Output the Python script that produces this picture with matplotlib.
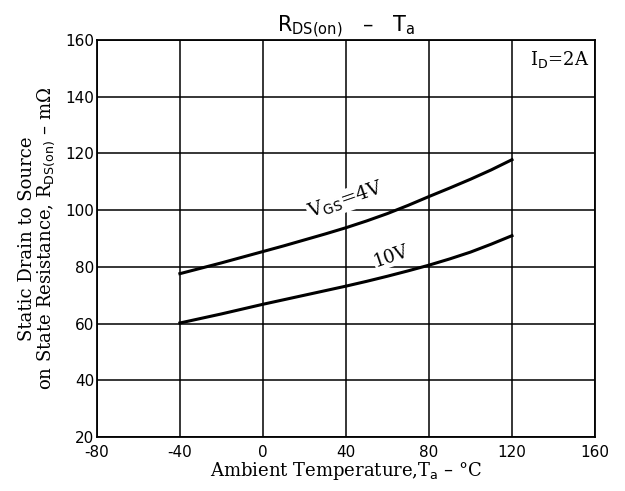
import matplotlib
matplotlib.use("Agg")
import matplotlib.pyplot as plt

plt.rcParams['axes.unicode_minus'] = False

temps = [-40, -30, -20, -10, 0, 10, 20, 30, 40, 50, 60, 70, 80, 90, 100, 110, 120]
r_4v = [77.6, 79.5, 81.4, 83.4, 85.4, 87.4, 89.5, 91.6, 93.8, 96.2, 98.8, 101.7, 104.8, 107.8, 110.9, 114.2, 117.8]
r_10v = [60.2, 61.8, 63.4, 65.1, 66.8, 68.4, 70.0, 71.6, 73.2, 74.9, 76.7, 78.6, 80.6, 82.8, 85.2, 88.0, 91.0]
xticks = [-80, -40, 0, 40, 80, 120, 160]
yticks = [20, 40, 60, 80, 100, 120, 140, 160]

fig = plt.figure(figsize=(6.25, 4.91), dpi=100)
ax = fig.add_axes([0.155, 0.11, 0.797, 0.8085])
ax.set_xlim(-80, 160)
ax.set_ylim(20, 160)
ax.set_xticks(xticks)
ax.set_yticks(yticks)
ax.grid(True, color='black', linewidth=1.1)
ax.tick_params(length=0, labelsize=11)
ax.tick_params(axis='x', pad=6)
ax.tick_params(axis='y', pad=2)
for s in ax.spines.values():
    s.set_linewidth(1.3)

ax.plot(temps, r_4v, color='black', linewidth=2.2)
ax.plot(temps, r_10v, color='black', linewidth=2.2)

box = dict(facecolor='white', edgecolor='none', pad=0.5)
ax.text(40, 95.3, r'V$_{\rm GS}$=4V', fontsize=14, family='DejaVu Serif', rotation=19,
        ha='center', va='bottom', bbox=box)
ax.text(62, 78.5, '10V', fontsize=13, family='DejaVu Serif', rotation=19,
        ha='center', va='bottom', bbox=box)
ax.text(157, 157, r'I$_{\rm D}$=2A', fontsize=13, family='DejaVu Serif', ha='right', va='top')

ax.set_title(r'R$_{\rm DS(on)}$   –   T$_{\rm a}$', fontsize=15, pad=6)
ax.set_xlabel(r'Ambient Temperature,T$_{\rm a}$ – °C', fontsize=13, family='DejaVu Serif', labelpad=0)
ax.set_ylabel('Static Drain to Source\n' + r'on State Resistance, R$_{\rm DS(on)}$ – mΩ',
              fontsize=13, family='DejaVu Serif', labelpad=6, linespacing=0.95)

fig.savefig('out.png', dpi=100)
